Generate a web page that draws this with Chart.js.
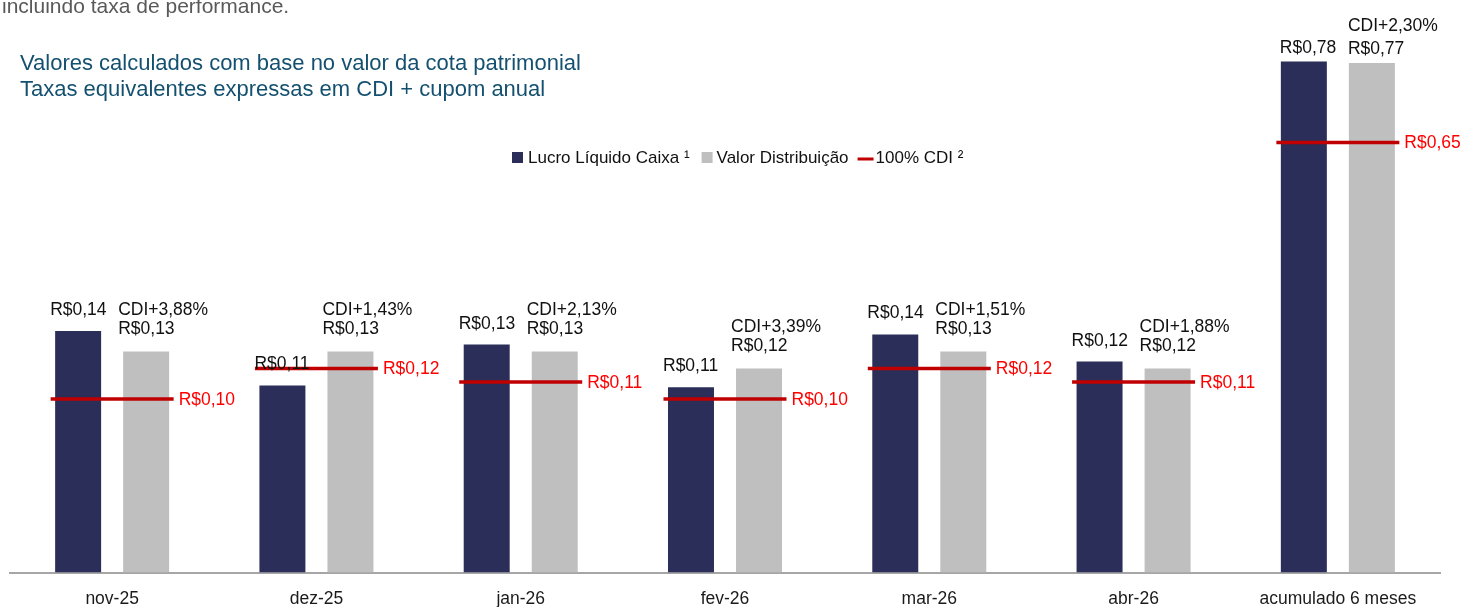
<!DOCTYPE html>
<html lang="pt-BR">
<head>
<meta charset="utf-8">
<title>Lucro Líquido Caixa x Distribuição</title>
<script src="https://cdn.jsdelivr.net/npm/chart.js@4.4.1/dist/chart.umd.min.js"></script>
<style>
  html, body { margin: 0; padding: 0; background: #fff; }
  #wrap { position: relative; width: 1463px; height: 607px; overflow: hidden; }
  #chart { position: absolute; left: 0; top: 0; }
  .note { position: absolute; font-family: 'Liberation Sans', Arial, sans-serif; white-space: nowrap; }
  #perf { left: 2px; top: -6px; font-size: 21px; line-height: 24px; color: #595959; }
  #info { left: 20px; top: 50px; font-size: 22px; line-height: 26px; color: #145070; }
</style>
</head>
<body>
<div id="wrap">
  <canvas id="chart" width="1463" height="607"></canvas>
  <div class="note" id="perf">incluindo taxa de performance.</div>
  <div class="note" id="info">Valores calculados com base no valor da cota patrimonial<br>Taxas equivalentes expressas em CDI + cupom anual</div>
</div>
<script>
// Data (R$ per cota)
const categories = ['nov-25', 'dez-25', 'jan-26', 'fev-26', 'mar-26', 'abr-26', 'acumulado 6 meses'];
const legendLabels = ['Lucro Líquido Caixa ¹', 'Valor Distribuição', '100% CDI ²'];

// monthly values (left scale)
const lucroMensal = [0.142, 0.110, 0.134, 0.109, 0.140, 0.124, null];
const distribMensal = [0.13, 0.13, 0.13, 0.12, 0.13, 0.12, null];
const cdiMensal = [0.102, 0.120, 0.112, 0.102, 0.120, 0.112, null];

// accumulated values (own scale)
const lucroAcumulado = [null, null, null, null, null, null, 0.776];
const distribAcumulado = [null, null, null, null, null, null, 0.774];
const cdiAcumulado = [null, null, null, null, null, null, 0.653];

// equivalent rate over CDI, % a.a.
const spreadCdi = [3.88, 1.43, 2.13, 3.39, 1.51, 1.88, 2.30];

const FONT = "'Liberation Sans', Arial, sans-serif";
const NAVY = '#2B2E59';
const GRAY = '#BFBFBF';
const RED = '#C00000';

Chart.defaults.font.family = FONT;

function brl(v) {
    return 'R$' + v.toFixed(2).replace('.', ',');
}

/**
 * Draws the value labels next to bars and CDI marks, plus the legend
 */
const labelPlugin = {
    id: 'barLabels',
    afterDatasetsDraw(chart) {
        const ctx = chart.ctx;
        ctx.save();
        ctx.font = '17.5px ' + FONT;
        chart.data.datasets.forEach((ds, i) => {
            const meta = chart.getDatasetMeta(i);
            meta.data.forEach((el, j) => {
                const v = ds.data[j];
                if (v === null || v === undefined)
                    return;
                if (ds.type === 'line') {
                    ctx.fillStyle = '#FF0000';
                    ctx.textAlign = 'left';
                    ctx.textBaseline = 'middle';
                    ctx.fillText(brl(v), el.x + ds.pointRadius + 5, el.y + 1);
                    return;
                }
                let lines = [brl(v)];
                if (ds.spread)
                    lines.unshift('CDI+' + ds.spread[j].toFixed(2).replace('.', ',') + '%');
                const left = el.x - el.width / 2 + ds.labelDx;
                ctx.fillStyle = '#111';
                ctx.textAlign = 'left';
                ctx.textBaseline = 'alphabetic';
                let y = el.y - ds.labelGap;
                for (let k = lines.length - 1; k >= 0; k--) {
                    ctx.fillText(lines[k], left, y);
                    y -= ds.lineStep || 19;
                }
            });
        });

        // Legend
        ctx.font = '17px ' + FONT;
        ctx.textBaseline = 'middle';
        let x = 512;
        const ly = 158;
        ctx.fillStyle = NAVY;
        ctx.fillRect(x, 152, 11, 11);
        x += 16;
        ctx.fillStyle = '#111';
        ctx.fillText(legendLabels[0], x, ly);
        x += ctx.measureText(legendLabels[0]).width + 12;
        ctx.fillStyle = GRAY;
        ctx.fillRect(x, 152, 11, 11);
        x += 15;
        ctx.fillStyle = '#111';
        ctx.fillText(legendLabels[1], x, ly);
        x += ctx.measureText(legendLabels[1]).width + 9;
        ctx.strokeStyle = RED;
        ctx.lineWidth = 3;
        ctx.beginPath();
        ctx.moveTo(x, ly + 1);
        ctx.lineTo(x + 16, ly + 1);
        ctx.stroke();
        x += 18;
        ctx.fillText(legendLabels[2], x, ly);
        ctx.restore();
    }
};

const barBase = { type: 'bar', skipNull: true, order: 1, categoryPercentage: 0.666, barPercentage: 0.676 };
const markBase = {
    type: 'line', showLine: false, pointStyle: 'line', pointRadius: 61.5,
    pointBorderWidth: 3.5, pointBorderColor: RED, pointBackgroundColor: RED, order: 0
};

new Chart(document.getElementById('chart'), {
    type: 'bar',
    data: {
        labels: categories,
        datasets: [
            Object.assign({}, barBase, { label: legendLabels[0], data: lucroMensal, backgroundColor: NAVY, yAxisID: 'y', labelDx: -5, labelGap: 16 }),
            Object.assign({}, barBase, { label: legendLabels[1], data: distribMensal, backgroundColor: GRAY, yAxisID: 'y', spread: spreadCdi, labelDx: -5, labelGap: 17.5, lineStep: 19 }),
            Object.assign({}, barBase, { label: legendLabels[0], data: lucroAcumulado, backgroundColor: NAVY, yAxisID: 'y2', labelDx: -1, labelGap: 9 }),
            Object.assign({}, barBase, { label: legendLabels[1], data: distribAcumulado, backgroundColor: GRAY, yAxisID: 'y2', spread: spreadCdi, labelDx: -1, labelGap: 9, lineStep: 23 }),
            Object.assign({}, markBase, { label: legendLabels[2], data: cdiMensal, yAxisID: 'y' }),
            Object.assign({}, markBase, { label: legendLabels[2], data: cdiAcumulado, yAxisID: 'y2' })
        ]
    },
    options: {
        responsive: false,
        animation: false,
        events: [],
        layout: { autoPadding: false, padding: { left: 10, right: 23, top: 30, bottom: 0 } },
        plugins: {
            legend: { display: false },
            tooltip: { enabled: false }
        },
        scales: {
            x: {
                offset: true,
                grid: { display: false, drawTicks: false },
                border: { display: true, color: '#A6A6A6', width: 2 },
                ticks: { color: '#1a1a1a', font: { size: 17.5, lineHeight: 1 }, padding: 17.75, maxRotation: 0, autoSkip: false },
                // keep the axis band short so labels sit near the bottom edge
                afterFit(scale) {
                    scale.height = 34.5;
                }
            },
            y: { display: false, min: 0, max: 0.319 },
            y2: { display: false, min: 0, max: 0.824 }
        }
    },
    plugins: [labelPlugin]
});
</script>
</body>
</html>
